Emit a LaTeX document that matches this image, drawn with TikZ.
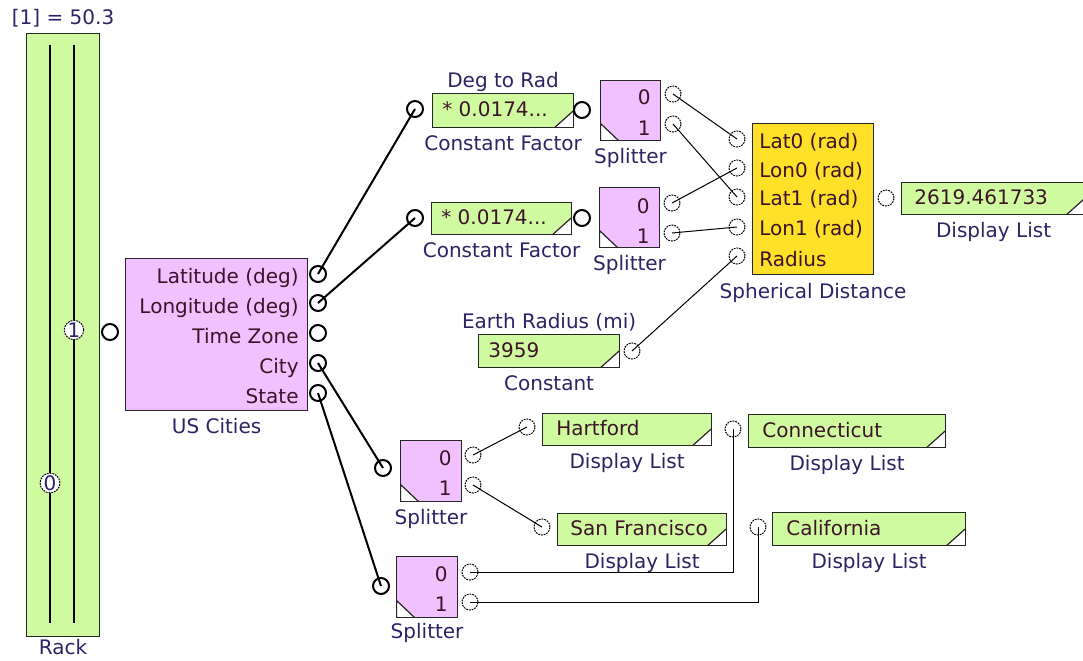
\documentclass[tikz,border=0pt]{standalone}
\usepackage{fontspec}
\setmainfont{DejaVu Sans}
\usetikzlibrary{positioning}
\definecolor{boxgreen}{RGB}{208,250,160}
\definecolor{boxpink}{RGB}{240,192,255}
\definecolor{boxyellow}{RGB}{255,224,40}
\definecolor{captext}{RGB}{45,35,100}
\definecolor{intext}{RGB}{60,20,40}
\tikzset{
  blk/.style={draw=black!85, line width=0.6pt, anchor=north west, inner sep=0pt},
  dlbox/.style={blk, fill=boxgreen, path picture={\draw[fill=white, line width=0.6pt] ([xshift=-9.5pt]path picture bounding box.south east) -- (path picture bounding box.south east) -- ([yshift=8.5pt]path picture bounding box.south east) -- cycle;}},
  spbox/.style={blk, fill=boxpink, path picture={\draw[fill=white, line width=0.6pt] ([xshift=9pt]path picture bounding box.south west) -- (path picture bounding box.south west) -- ([yshift=8.5pt]path picture bounding box.south west) -- cycle;}},
  txt/.style={text=intext, inner sep=0pt, text height=7.5pt, text depth=1pt},
  captn/.style={text=captext, inner sep=3pt, text height=7.5pt, text depth=2pt},
  port/.style={circle, draw, line width=1pt, minimum size=8pt, inner sep=0pt},
  dport/.style={circle, draw, line width=0.5pt, dash pattern=on 0.9pt off 0.5pt, minimum size=8pt, inner sep=0pt},
  lwire/.style={line width=1pt},
  twire/.style={line width=0.5pt},
}
\begin{document}
\begin{tikzpicture}[x=0.5pt, y=-0.5pt, every node/.style={font=\fontsize{10}{12}\selectfont},
  every label/.style={captn}]
  \useasboundingbox (0,0) rectangle (1083,660);
  % Rack
  \node[blk, fill=boxgreen, minimum width=36.5pt, minimum height=301.5pt,
    label={[label distance=-1pt]above:{[1] = 50.3}}, label={[label distance=-2pt]below:Rack}] (rack) at (26,33) {};
  \draw[line width=0.8pt] (50,45) -- (50,623);
  \draw[line width=0.8pt] (74,45) -- (74,623);
  \node[dport, fill=white, minimum size=7.5pt, text=captext] (rk1) at (74,330) {1};
  \node[dport, fill=white, minimum size=7.5pt, text=captext] (rk0) at (50,483) {0};
  \node[port] (rkout) at (110,332) {};
  % US Cities
  \node[blk, fill=boxpink, minimum width=91pt, minimum height=76pt,
    label={[label distance=0.5pt]below:US Cities}] (cities) at (125,258) {};
  \node[txt, anchor=east] (tlat) at (299,277) {Latitude (deg)};
  \node[txt, anchor=east] (tlon) at (299,307) {Longitude (deg)};
  \node[txt, anchor=east] (ttz) at (299,337) {Time Zone};
  \node[txt, anchor=east] (tcity) at (299,367) {City};
  \node[txt, anchor=east] (tstate) at (299,397) {State};
  \node[port] (plat) at (318,274) {};
  \node[port] (plon) at (318,303) {};
  \node[port] (ptz) at (318,333) {};
  \node[port] (pcity) at (318,363) {};
  \node[port] (pstate) at (318,393) {};
  % Deg to Rad
  \node[dlbox, minimum width=70.5pt, minimum height=17pt,
    label={[label distance=-2.5pt]above:Deg to Rad}, label={[label distance=0.5pt]below:Constant Factor}] (cf1) at (432,93) {};
  \node[txt, anchor=west] (tcf1) at (442,110) {* 0.0174...};
  \node[port] (cf1in) at (415,109) {};
  \node[port] (cf1out) at (582,110) {};
  \node[spbox, minimum width=30pt, minimum height=30pt, label={[label distance=0.5pt]below:Splitter}] (sp1) at (600,80) {};
  \node[txt, anchor=east] (tsp1a) at (651,98) {0};
  \node[txt, anchor=east] (tsp1b) at (651,129) {1};
  \node[dport] (sp1a) at (673,94) {};
  \node[dport] (sp1b) at (673,124) {};
  \node[dlbox, minimum width=70pt, minimum height=16pt, label={[label distance=0.5pt]below:Constant Factor}] (cf2) at (431,202) {};
  \node[txt, anchor=west] (tcf2) at (441,218) {* 0.0174...};
  \node[port] (cf2in) at (415,218) {};
  \node[port] (cf2out) at (582,218) {};
  \node[spbox, minimum width=30pt, minimum height=30pt, label={[label distance=0.5pt]below:Splitter}] (sp2) at (599,187) {};
  \node[txt, anchor=east] (tsp2a) at (650,207) {0};
  \node[txt, anchor=east] (tsp2b) at (650,237) {1};
  \node[dport] (sp2a) at (672,203) {};
  \node[dport] (sp2b) at (672,233) {};
  % Spherical Distance
  \node[blk, fill=boxyellow, minimum width=60.5pt, minimum height=75.5pt,
    label={[label distance=1pt]below:Spherical Distance}] (sd) at (752,123) {};
  \node[txt, anchor=west] (tlat0) at (759,142) {Lat0 (rad)};
  \node[txt, anchor=west] (tlon0) at (759,171) {Lon0 (rad)};
  \node[txt, anchor=west] (tlat1) at (759,199) {Lat1 (rad)};
  \node[txt, anchor=west] (tlon1) at (759,229) {Lon1 (rad)};
  \node[txt, anchor=west] (trad) at (759,260) {Radius};
  \node[dport] (ilat0) at (737,139) {};
  \node[dport] (ilon0) at (737,168) {};
  \node[dport] (ilat1) at (737,197) {};
  \node[dport] (ilon1) at (737,227) {};
  \node[dport] (irad) at (737,256) {};
  \node[dport] (sdout) at (886,198) {};
  \node[dlbox, minimum width=92pt, minimum height=16pt, label={[label distance=0.5pt]below:Display List}] (dl0) at (901,182) {};
  \node[txt, anchor=west] (tdl0) at (914,198) {2619.461733};
  % Earth Radius
  \node[dlbox, minimum width=70.5pt, minimum height=16.5pt,
    label={[label distance=-2.5pt]above:Earth Radius (mi)}, label={[label distance=0.5pt]below:Constant}] (const) at (478,334) {};
  \node[txt, anchor=west] (tconst) at (488,351) {3959};
  \node[dport] (constout) at (632,351) {};
  % City
  \node[spbox, minimum width=30.5pt, minimum height=30.5pt, label={[label distance=0.5pt]below:Splitter}] (sp3) at (400,440) {};
  \node[txt, anchor=east] (tsp3a) at (452,459) {0};
  \node[txt, anchor=east] (tsp3b) at (452,489) {1};
  \node[port] (sp3in) at (383,468) {};
  \node[dport] (sp3a) at (473,455) {};
  \node[dport] (sp3b) at (473,485) {};
  \node[dlbox, minimum width=84.5pt, minimum height=16pt, label={[label distance=0.5pt]below:Display List}] (hart) at (542,413) {};
  \node[txt, anchor=west] (thart) at (556,429) {Hartford};
  \node[dport] (ihart) at (527,427) {};
  \node[dlbox, minimum width=84.5pt, minimum height=16pt, label={[label distance=0.5pt]below:Display List}] (sf) at (557,513) {};
  \node[txt, anchor=west] (tsf) at (570,529) {San Francisco};
  \node[dport] (isf) at (542,527) {};
  % State
  \node[spbox, minimum width=30.5pt, minimum height=30.5pt, label={[label distance=-0.5pt]below:Splitter}] (sp4) at (396,556) {};
  \node[txt, anchor=east] (tsp4a) at (448,575) {0};
  \node[txt, anchor=east] (tsp4b) at (448,605) {1};
  \node[port] (sp4in) at (381,586) {};
  \node[dport] (sp4a) at (470,572) {};
  \node[dport] (sp4b) at (470,602) {};
  \node[dlbox, minimum width=98.5pt, minimum height=16.5pt, label={[label distance=0.5pt]below:Display List}] (ct) at (748,414) {};
  \node[txt, anchor=west] (tct) at (762,431) {Connecticut};
  \node[dport] (ict) at (733,429) {};
  \node[dlbox, minimum width=96.5pt, minimum height=16.5pt, label={[label distance=0.5pt]below:Display List}] (ca) at (772,512) {};
  \node[txt, anchor=west] (tca) at (786,529) {California};
  \node[dport] (ica) at (758,527) {};
  % wires
  \draw[lwire] (plat.center) to (cf1in.center);
  \draw[lwire] (plon.center) to (cf2in.center);
  \draw[lwire] (pcity.center) to (sp3in.center);
  \draw[lwire] (pstate.center) to (sp4in.center);
  \draw[twire] (sp1a.center) to (ilat0.center);
  \draw[twire] (sp1b.center) to (ilat1.center);
  \draw[twire] (sp2a.center) to (ilon0.center);
  \draw[twire] (sp2b.center) to (ilon1.center);
  \draw[twire] (constout.center) to (irad.center);
  \draw[twire] (sp3a.center) to (ihart.center);
  \draw[twire] (sp3b.center) to (isf.center);
  \draw[twire] (sp4a.center) -| (ict.center);
  \draw[twire] (sp4b.center) -| (ica.center);
\end{tikzpicture}
\end{document}
